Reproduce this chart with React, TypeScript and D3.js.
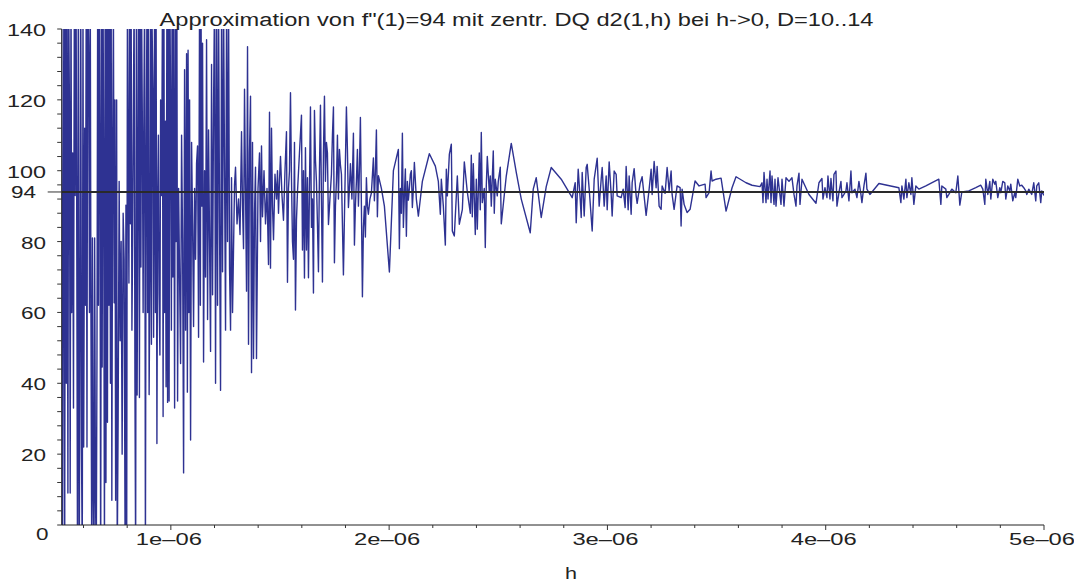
import React from "react";
import * as d3 from "d3";

// h in units of 1e-6, d2 = central second difference quotient values
const hSeg1 = [
  0.5000,0.5037,0.5073,0.5105,0.5137,0.5174,0.5211,0.5243,0.5284,0.5320,
  0.5357,0.5389,0.5426,0.5458,0.5503,0.5540,0.5577,0.5618,0.5654,0.5687,
  0.5723,0.5760,0.5801,0.5838,0.5870,0.5906,0.5943,0.5975,0.6007,0.6053,
  0.6089,0.6121,0.6158,0.6190,0.6236,0.6272,0.6309,0.6341,0.6373,0.6410,
  0.6442,0.6479,0.6510,0.6547,0.6584,0.6616,0.6648,0.6684,0.6721,0.6753,
  0.6785,0.6822,0.6854,0.6890,0.6922,0.6959,0.6991,0.7027,0.7059,0.7096,
  0.7128,0.7165,0.7197,0.7233,0.7265,0.7297,0.7334,0.7370,0.7403,0.7439,
  0.7471,0.7517,0.7544,0.7586,0.7632,0.7677,0.7723,0.7769,0.7815,0.7860,
  0.7906,0.7943,0.7975,0.8011,0.8043,0.8080,0.8112,0.8149,0.8181,0.8217,
  0.8249,0.8286,0.8318,0.8355,0.8387,0.8423,0.8455,0.8492,0.8524,0.8561,
  0.8593,0.8629,0.8661,0.8698,0.8730,0.8767,0.8799,0.8835,0.8867,0.8904,
  0.8936,0.8973,0.9005,0.9041,0.9073,0.9110,0.9142,0.9179,0.9210,0.9256,
  0.9293,0.9325,0.9362,0.9394,0.9430,0.9462,0.9499,0.9531,0.9577,0.9613,
  0.9645,0.9682,0.9714,0.9750,0.9782,0.9819,0.9851,0.9888,0.9920,0.9957,
];
const dSeg1 = [
  150,-15,83,160,-10,150,40,160,9,150,
  115,9,155,60,105,33,145,93,160,91,
  -10,150,-20,57,170,21.7,-10,150,22,112,
  62,145,22,155,135.5,60,150,57,-5,81,
  7,-15,81,8,-10,48,150,62,165,108,
  -20,145,44.6,160,101.6,-10,150,12,145,29,
  155,62,150,40,160,7,105.8,145,62.7,120,
  7,120,-10,30,97,52,80,20,88,75,
  -10,90.3,-20,150,103,68.3,155,85,150,55,
  80,120,150,40,-10,150,36.7,101,155,36,
  150,72.8,145,110.6,60,118.5,150,-10,98,145,
  60,150,36.8,71,150,51,140,123,53,150,
  60,145,23,89,110,65,48,120,93,145,
  30.6,150,60,114,39,150,34.6,145,35,150,
];

const hSeg2 = [
  0.9989,1.0025,1.0057,1.0094,1.0126,1.0172,1.0208,1.0240,1.0277,1.0309,
  1.0355,1.0400,1.0446,1.0492,1.0538,1.0584,1.0629,1.0675,1.0721,1.0757,
  1.0789,1.0826,1.0858,1.0904,1.0950,1.0995,1.1041,1.1087,1.1133,1.1178,
  1.1224,1.1270,1.1316,1.1352,1.1384,1.1421,1.1453,1.1499,1.1545,1.1590,
  1.1636,1.1682,1.1728,1.1773,1.1819,1.1865,1.1911,1.1957,1.2002,1.2048,
  1.2094,1.2140,1.2185,1.2231,1.2277,1.2323,1.2368,1.2414,1.2460,1.2506,
  1.2551,1.2597,1.2643,1.2689,1.2735,1.2780,1.2826,
];
const dSeg2 = [
  117,55,150,70,145,33,150,80,145,35,
  95,70,45.6,110,80,14.7,128.5,55,133,37.5,
  134,60,120,24,108,85,56,95,75,102,
  107,53,150,62,145,90,136,46,100,70,
  137,58,111.5,80,49,130,65,118,150,40,
  145,62,150,85,38,145,71.5,150,100,55,
  145,80,150,72.5,55,98,60,
];

const hSeg3 = [
  1.2918,1.2963,1.3032,1.3101,1.3169,1.3238,1.3284,1.3330,1.3375,1.3421,
  1.3467,1.3513,1.3558,1.3604,1.3650,1.3696,1.3741,1.3787,1.3833,1.3879,
  1.3924,1.3993,1.4062,1.4108,1.4153,1.4199,1.4268,1.4337,1.4405,1.4474,
  1.4520,1.4565,1.4611,1.4657,1.4703,1.4771,1.4840,1.4886,1.4932,1.4977,
  1.5023,1.5092,1.5160,1.5229,1.5297,1.5343,1.5389,1.5435,1.5481,1.5526,
];
const dSeg3 = [
  96,101,85,92,82,111,90,78,123,95,
  66,135,51,105,121,43,108,47,88,101,
  47,95,105,80,107,87,100,85,95,73.5,
  116.5,72.5,112,90,80.5,99,92,100,88,97,
  104,93,86,100,111,68.5,95,100,122,98,
];

const hSeg4 = [
  1.5572,1.5618,1.5664,1.5709,1.5755,1.5801,1.5892,1.5984,1.6030,1.6076,
  1.6121,1.6167,1.6213,1.6259,1.6304,1.6350,1.6396,1.6442,1.6487,1.6533,
  1.6579,1.6625,1.6670,1.6716,1.6762,1.6808,1.6854,1.6899,1.6945,1.6991,
  1.7037,1.7082,1.7128,1.7174,1.7220,1.7288,1.7357,1.7403,1.7449,1.7494,
  1.7540,1.7586,1.7632,1.7677,1.7723,1.7769,1.7815,1.7906,1.7975,1.8043,
  1.8089,1.8135,1.8181,1.8227,1.8295,1.8364,1.8410,1.8455,1.8501,1.8547,
  1.8593,1.8638,1.8684,1.8730,1.8776,1.8822,1.8867,1.8913,1.8959,1.9005,
  1.9050,1.9119,1.9188,1.9279,1.9325,1.9371,1.9417,1.9462,1.9508,1.9645,
  1.9783,2.0012,2.0195,2.0423,2.0469,2.0515,2.0561,2.0607,2.0652,2.0698,
  2.0744,2.0790,2.0835,2.0881,2.0927,2.0973,2.1018,2.1064,2.1110,2.1156,
  2.1247,2.1339,
];
const dSeg4 = [
  80,75,108,60.7,86,94,105,115.7,77.6,100,
  69.7,106.5,77.6,98,69.8,95,118,84,92,65.5,
  117,103,97,85,71.5,100,118.5,92,68.6,105,
  121,97,108,105,84.8,92,99,110,118,74,
  90,97,110,92,106,101.6,99,70.6,95,118,
  106,89.6,95,102,92,110.6,79,90,97,106,
  90,100,115,90,64.4,84,90,81.3,98,90,
  87.7,92,93.7,103.6,91.5,100,111.5,87,98.6,95,
  90,71.4,100,106,78,95,88,110.6,84,93,
  100.5,81.5,97,91.7,95,99,100,89.6,95,102.3,
  92,87.2,
];

const hSeg5 = [
  2.1522,2.1842,2.2117,2.2254,2.2346,2.2391,2.2483,2.2575,2.2620,2.2666,
  2.2758,2.2849,2.2895,2.2986,2.3124,2.3215,2.3353,2.3444,2.3581,2.3719,
  2.3764,2.3810,2.3856,2.3947,2.3993,2.4039,2.4130,2.4176,2.4222,2.4268,
  2.4359,2.4405,2.4451,2.4497,2.4588,2.4634,2.4680,2.4771,2.4817,2.4863,
  2.4954,2.5000,2.5092,2.5137,2.5366,2.5595,2.5824,2.6053,2.6465,2.6602,
  2.6739,2.6968,2.7197,2.7426,2.7883,2.8387,
];
const dSeg5 = [
  97,104.8,101.3,97,87.7,97.6,90,79,100.4,92.9,
  104.6,107.5,83,81.6,98.5,84.9,89,102.5,94,88,
  104.4,87,102,82,97.6,83.5,105,89,110.8,91,
  95,78.3,95.7,104,94,98.5,90,105.6,88,97.6,
  92.9,97,101,85,98.5,107.7,99.5,92,82.5,94.8,
  98,86.8,95.5,100.9,97.6,92.4,
];

const hSeg6 = [
  2.8524,2.8570,2.8661,2.8753,2.8799,2.8844,2.8936,2.9027,2.9073,2.9165,
  2.9302,2.9394,2.9531,2.9622,2.9714,2.9760,2.9851,2.9943,2.9989,3.0080,
  3.0172,3.0217,3.0309,3.0400,3.0446,3.0629,3.0721,3.0812,3.0858,3.0950,
  3.0995,3.1087,3.1133,3.1224,3.1316,3.1362,3.1499,3.1590,3.1773,3.1911,
  3.2002,3.2048,3.2140,3.2231,3.2277,3.2368,3.2460,3.2506,3.2643,3.2735,
  3.2826,3.2918,3.2963,3.3055,3.3192,3.3330,3.3375,3.3421,3.3513,3.3650,
  3.3787,3.4016,3.4199,3.4474,3.4519,3.4657,3.4748,3.4794,3.4977,3.5206,
  3.5435,3.5709,3.5892,3.6350,3.6625,3.6991,3.7082,3.7128,3.7174,3.7265,
  3.7311,3.7357,3.7449,3.7494,3.7540,3.7632,3.7677,3.7723,3.7815,
];
const dSeg6 = [
  96.6,85.3,100.4,92,86.8,99.5,87.2,100.9,101.8,94.8,
  83,97.6,103.5,90,97.6,100.9,90,98.5,89,102.5,
  93.3,87.2,99.9,99,92.9,92.4,94.8,89.6,101.2,89,
  98.5,87.7,96.6,100.6,92.9,90.8,96.4,98.3,87.4,94.8,
  100.4,93.3,102.6,95.2,101.2,90,89.1,95.7,93.6,100.9,
  94.3,99.9,93.3,89.1,95.7,95.2,84.4,94.8,90.5,88.2,
  89.1,97.1,95.7,96.2,92.4,93.8,99.9,97.1,97.6,97.9,
  88.6,95.2,98.3,96.6,95.9,95.5,96.6,91,99.5,91,
  97.6,92,99.9,91,98.5,90.5,97.6,90,98,
];

const hSeg7 = [
  3.7952,3.7998,3.8089,3.8181,3.8318,3.8455,3.8547,3.8638,3.8684,3.8776,
  3.8822,3.8913,3.9233,3.9554,3.9691,3.9828,3.9874,3.9966,4.0057,4.0103,
  4.0195,4.0240,4.0332,4.0378,4.0469,4.0515,4.0606,4.0698,4.0744,4.0835,
  4.0927,4.0973,4.1064,4.1156,4.1201,4.1339,4.1430,4.1522,4.1613,4.1659,
  4.1751,4.1842,4.1888,4.2025,4.2437,4.3352,4.3444,4.3490,4.3581,4.3673,
  4.3719,4.3810,4.3902,4.3947,4.4039,4.4130,4.4268,4.4588,4.5183,4.5275,
  4.5320,4.5503,4.5549,4.5641,4.5778,4.5961,4.6053,4.6144,4.6236,4.6556,
  4.6876,4.7105,4.7197,4.7288,4.7334,4.7426,4.7517,4.7563,4.7654,4.7746,
  4.7792,4.7883,4.7975,4.8021,4.8112,4.8204,4.8249,4.8341,4.8432,4.8478,
  4.8570,4.8661,4.8707,4.8799,4.8890,4.8982,4.9073,4.9165,4.9211,4.9302,
  4.9394,4.9439,4.9531,4.9622,4.9668,4.9760,4.9851,4.9897,5.0000,
];
const dSeg7 = [
  90.5,97.6,90,98,97,98,93.3,90,95.7,99.3,
  90.5,97.6,93.3,90.8,96.6,97.8,92,95.2,92.4,98.5,
  92,97.8,91.5,99,99.9,90,93.8,97,92.4,93.3,
  94.3,96.6,91.5,99.9,93.8,94.8,92.4,97,93.3,91,
  95.7,99.3,94.8,93.3,96.4,95.2,91,95.7,92,97.6,
  92.4,96.6,93.3,98,90.5,95.7,94.8,95.7,97.6,90.5,
  95.7,94.8,92.4,93.3,94.8,93.8,98.5,90.3,94,94.3,
  95.2,95.9,94.8,90.5,97.6,93.3,97,92,97.6,96.2,
  97,92.4,95.2,93.8,97,96.6,92,95.7,94.3,96.2,
  91.5,93.8,92.4,97.6,95.7,95.9,95.2,94.3,93.3,94.8,
  93.8,93.3,96.6,91.5,95.7,96.6,91,94.3,93,
];

const exactValue = 94;
const xMajorTicks = [1, 2, 3, 4, 5];
const xTickLabels = ["1e\u201306", "2e\u201306", "3e\u201306", "4e\u201306", "5e\u201306"];
const yMajorTicks = [0, 20, 40, 60, 80, 100, 120, 140];
const titleText = 'Approximation von f"(1)=94 mit zentr. DQ d2(1,h) bei h->0, D=10..14';
const xAxisLabel = "h";

const hAll = d3.merge([hSeg1, hSeg2, hSeg3, hSeg4, hSeg5, hSeg6, hSeg7]);
const dAll = d3.merge([dSeg1, dSeg2, dSeg3, dSeg4, dSeg5, dSeg6, dSeg7]);
const points = hAll.map((h, i) => ({ h, v: dAll[i] }));

const W = 1074;
const H = 581;
const left = 61.7;
const right = 1044;
const top = 29;
const bottom = 525;

export default function App() {
  const x = d3.scaleLinear().domain([0.5, 5]).range([left, right]);
  const y = d3.scaleLinear().domain([0, 140]).range([bottom, top]);
  const line = d3
    .line<{ h: number; v: number }>()
    .x((d) => x(d.h))
    .y((d) => y(d.v));
  const xMinor = d3.range(0.6, 5.0001, 0.2).map((v) => Math.round(v * 10) / 10);
  const yMinor = d3.range(0, 140.001, 4);
  const font = "'Liberation Sans', Arial, Helvetica, sans-serif";

  return (
    <svg
      width={W}
      height={H}
      style={{ position: "absolute", left: 0, top: 0, background: "#fff" }}
      fontFamily={font}
    >
      <defs>
        <clipPath id="plotClip">
          <rect x={left} y={top} width={right - left} height={bottom - top} />
        </clipPath>
      </defs>
      <rect x={0} y={0} width={W} height={H} fill="#fff" />
      <g clipPath="url(#plotClip)">
        <path d={line(points) || ""} fill="none" stroke="#2e3292" strokeWidth={1.4} strokeLinejoin="round" />
        <line x1={x(0.5)} x2={x(5)} y1={y(exactValue)} y2={y(exactValue)} stroke="#2a2a2a" strokeWidth={2} />
      </g>
      {/* axes */}
      <line x1={left} x2={left} y1={top} y2={bottom} stroke="#222" strokeWidth={1} />
      <line x1={left} x2={right} y1={bottom} y2={bottom} stroke="#222" strokeWidth={1} />
      {yMinor.map((v) => (
        <line key={"ym" + v} x1={left - 4.5} x2={left} y1={y(v)} y2={y(v)} stroke="#333" strokeWidth={1} />
      ))}
      <line x1={left - 14} x2={left} y1={y(exactValue)} y2={y(exactValue)} stroke="#333" strokeWidth={1} />
      {xMinor.map((v) => (
        <line
          key={"xm" + v}
          x1={x(v)}
          x2={x(v)}
          y1={bottom}
          y2={bottom + (xMajorTicks.includes(v) ? 5 : 3)}
          stroke="#333"
          strokeWidth={1}
        />
      ))}
      {yMajorTicks.map((v) => (
        <text
          key={"yl" + v}
          x={v === 0 ? 48.5 : 46}
          y={v === 0 ? 540 : y(v) + 7}
          textAnchor="end"
          fontSize={16}
          fill="#222"
          textLength={v >= 100 ? 39 : v === 0 ? 12.5 : 25}
          lengthAdjust="spacingAndGlyphs"
        >
          {v}
        </text>
      ))}
      <text
        x={36}
        y={y(exactValue) + 6}
        textAnchor="end"
        fontSize={16}
        fill="#222"
        textLength={25}
        lengthAdjust="spacingAndGlyphs"
      >
        {exactValue}
      </text>
      {xMajorTicks.map((v, i) => (
        <text
          key={"xl" + v}
          x={x(v) - 2}
          y={545}
          textAnchor="middle"
          fontSize={16}
          fill="#222"
          textLength={66}
          lengthAdjust="spacingAndGlyphs"
        >
          {xTickLabels[i]}
        </text>
      ))}
      <text x={571} y={579} textAnchor="middle" fontSize={16} fill="#222" textLength={12} lengthAdjust="spacingAndGlyphs">
        {xAxisLabel}
      </text>
      <text
        x={516.5}
        y={26}
        textAnchor="middle"
        fontSize={18}
        fill="#222"
        textLength={714}
        lengthAdjust="spacingAndGlyphs"
      >
        {titleText}
      </text>
    </svg>
  );
}
